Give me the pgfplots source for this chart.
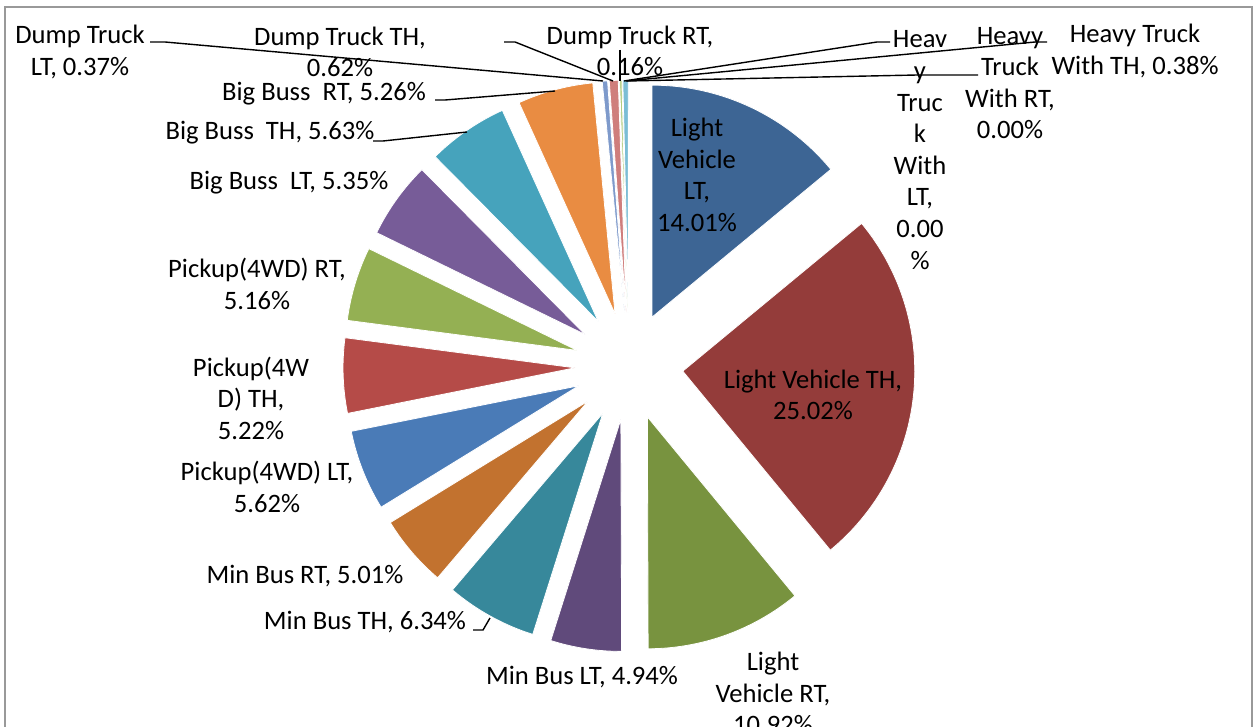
\documentclass[border=0pt]{standalone}
\usepackage{pgfplots}
\usepackage{pgfplotstable}
\pgfplotsset{compat=1.18}
\usepackage{fontspec}
\setmainfont{Carlito}

\definecolor{col0}{HTML}{3D6594}
\definecolor{col1}{HTML}{943C3A}
\definecolor{col2}{HTML}{78933F}
\definecolor{col3}{HTML}{604A7B}
\definecolor{col4}{HTML}{37889B}
\definecolor{col5}{HTML}{C2722F}
\definecolor{col6}{HTML}{4A7BB7}
\definecolor{col7}{HTML}{B54B48}
\definecolor{col8}{HTML}{94B053}
\definecolor{col9}{HTML}{775C98}
\definecolor{col10}{HTML}{46A3BC}
\definecolor{col11}{HTML}{E98C42}
\definecolor{col12}{HTML}{7E9ACB}
\definecolor{col13}{HTML}{CF7E7C}
\definecolor{col14}{HTML}{B3CC7F}
\definecolor{col15}{HTML}{A08FBF}
\definecolor{col16}{HTML}{7BBDD5}
\definecolor{col17}{HTML}{F9B37B}

% shares in percent, clockwise from 12 o'clock
\pgfplotstableread{
v
14.01
25.02
10.92
4.94
6.34
5.01
5.62
5.22
5.16
5.35
5.63
5.26
0.37
0.62
0.16
0.00
0.38
0.00
}\piedata

\newcommand{\lf}{\fontsize{13.3bp}{15.8bp}\selectfont}

\begin{document}
\begin{tikzpicture}
\begin{axis}[
  name=ax,
  scale only axis,
  width=627bp, height=363.5bp,
  xmin=0, xmax=1254, ymin=0, ymax=727,
  y dir=reverse,
  hide axis,
  clip=false,
]
\def\cum{0}
\pgfplotsforeachungrouped \i in {0,...,17}{%
  \pgfplotstablegetelem{\i}{v}\of\piedata
  \let\val\pgfplotsretval
  \pgfmathsetmacro\s{\cum}%
  \pgfmathsetmacro\e{\cum+3.6*\val/1.0001}%
  \pgfmathsetmacro\m{(\s+\e)/2}%
  \pgfmathsetmacro\ox{629+54*sin(\m)}%
  \pgfmathsetmacro\oy{366-54*cos(\m)}%
  \ifdim\val pt>0pt
    \edef\temp{\noexpand\addplot[fill=col\i, draw=white, line width=0.4pt, domain=\s:\e, samples=60, variable=\noexpand\t] ({\ox+232*sin(\noexpand\t)},{\oy-232*cos(\noexpand\t)}) -- (axis cs:\ox,\oy) -- cycle;}%
    \temp
  \fi
  \let\cum\e
}

% frame
\addplot[color=black!40, line width=0.75bp, no marks] coordinates {(5,740) (5,7) (1252,7) (1252,740)};

% leader lines
\addplot[black, line width=0.7bp, no marks] coordinates {(150,42) (165,42) (603,81)};
\addplot[black, line width=0.7bp, no marks] coordinates {(504,42) (515,42) (613,81)};
\addplot[black, line width=0.7bp, no marks] coordinates {(620,50) (620,81)};
\addplot[black, line width=0.7bp, no marks] coordinates {(890,42) (877,42) (624,81)};
\addplot[black, line width=0.7bp, no marks] coordinates {(1047,42) (1035,42) (626,81)};
\addplot[black, line width=0.7bp, no marks] coordinates {(978,75) (917,75) (627,81)};
\addplot[black, line width=0.7bp, no marks] coordinates {(435,100) (445,100) (555,91)};
\addplot[black, line width=0.7bp, no marks] coordinates {(373,141) (383,141) (467,132)};
\addplot[black, line width=0.7bp, no marks] coordinates {(473,630) (483,630) (490,618)};

% labels
\tikzset{lab/.style={align=center, font=\lf, text=black, inner sep=0pt}}
\node[lab] at (axis cs:697,175) {Light\\Vehicle\\LT,\\14.01\%};
\node[lab] at (axis cs:813,395) {Light Vehicle TH,\\25.02\%};
\node[lab] at (axis cs:773,693) {Light\\Vehicle RT,\\10.92\%};
\node[lab] at (axis cs:582,677) {Min Bus LT, 4.94\%};
\node[lab] at (axis cs:365,622) {Min Bus TH, 6.34\%};
\node[lab] at (axis cs:305,576) {Min Bus RT, 5.01\%};
\node[lab] at (axis cs:267,487) {Pickup(4WD) LT,\\5.62\%};
\node[lab] at (axis cs:251,398) {Pickup(4W\\D) TH,\\5.22\%};
\node[lab] at (axis cs:257,284) {Pickup(4WD) RT,\\5.16\%};
\node[lab] at (axis cs:289,183) {Big Buss\ \ LT, 5.35\%};
\node[lab] at (axis cs:270,133) {Big Buss\ \ TH, 5.63\%};
\node[lab] at (axis cs:324,94) {Big Buss\ \ RT, 5.26\%};
\node[lab] at (axis cs:80,52) {Dump Truck\\LT, 0.37\%};
\node[lab] at (axis cs:340,52) {Dump Truck TH,\\0.62\%};
\node[lab] at (axis cs:630,51) {Dump Truck RT,\\0.16\%};
\node[lab] at (axis cs:920,150) {Heav\\y\\Truc\\k\\With\\LT,\\0.00\\\%};
\node[lab] at (axis cs:1135,51) {Heavy Truck\\With TH, 0.38\%};
\node[lab] at (axis cs:1010,83) {Heavy\\Truck\\With RT,\\0.00\%};
\end{axis}
\pgfresetboundingbox
\path (ax.south west) rectangle (ax.north east);
\end{tikzpicture}
\end{document}
